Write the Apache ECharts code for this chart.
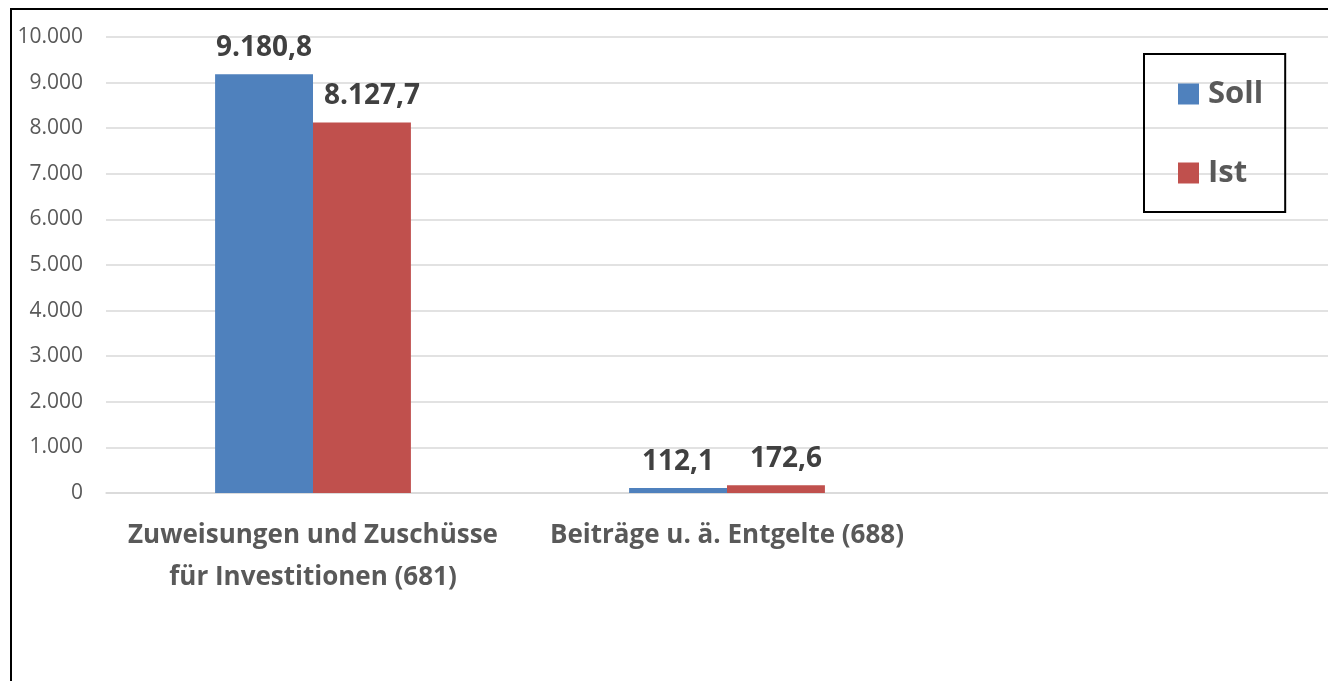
<!DOCTYPE html>
<html>
<head>
<meta charset="utf-8">
<script src="https://cdn.jsdelivr.net/npm/echarts@6/dist/echarts.min.js"></script>
<style>
  html, body { margin: 0; padding: 0; overflow: hidden; background: #fff; }
  #chart { width: 1360px; height: 681px; }
</style>
</head>
<body>
<div id="chart"></div>
<script>
// data
const categories = ['Zuweisungen und Zuschüsse\nfür Investitionen (681)', 'Beiträge u. ä. Entgelte (688)', ''];
const sollValues = [9180.8, 112.1, null];
const istValues = [8127.7, 172.6, null];
const seriesNames = ['Soll', 'Ist'];

// german number format
const fmtDe = (v, dec) => {
  const parts = Number(v).toFixed(dec).split('.');
  parts[0] = parts[0].replace(/\B(?=(\d{3})+(?!\d))/g, '.');
  return dec ? parts[0] + ',' + parts[1] : parts[0];
};

const chart = echarts.init(document.getElementById('chart'));
const font = '"Open Sans", "Noto Sans", sans-serif';

const barLabel = {
  show: true,
  position: 'top',
  distance: 12,
  fontFamily: font,
  fontWeight: 'bold',
  fontSize: 28,
  color: '#404040',
  formatter: p => fmtDe(p.value, 1)
};

chart.setOption({
  animation: false,
  textStyle: { fontFamily: font },
  graphic: [{
    type: 'rect',
    shape: { x: 11, y: 9, width: 1400, height: 720 },
    style: { fill: 'none', stroke: '#000', lineWidth: 2 },
    silent: true
  }],
  grid: { left: 106, top: 37, width: 1242, bottom: 681 - 493 },
  legend: {
    orient: 'vertical',
    left: 1144,
    top: 54,
    padding: [20, 22, 19, 34],
    itemGap: 39,
    itemWidth: 21,
    itemHeight: 21,
    borderColor: '#000',
    borderWidth: 2,
    icon: 'rect',
    textStyle: {
      fontSize: 31,
      lineHeight: 40,
      fontWeight: 'bold',
      color: '#595959',
      fontFamily: font,
      padding: [0, 0, 0, 4]
    },
    data: seriesNames
  },
  xAxis: {
    type: 'category',
    data: categories,
    axisLine: { show: true, lineStyle: { color: '#d9d9d9', width: 1.5 } },
    axisTick: { show: false },
    axisLabel: {
      interval: 0,
      margin: 22,
      fontSize: 26,
      fontWeight: 'bold',
      color: '#595959',
      lineHeight: 42,
      fontFamily: font
    }
  },
  yAxis: {
    type: 'value',
    min: 0,
    max: 10000,
    interval: 1000,
    axisLine: { show: false },
    axisTick: { show: false },
    splitLine: { lineStyle: { color: '#d9d9d9', width: 1.5 } },
    axisLabel: {
      margin: 23,
      fontSize: 21,
      color: '#595959',
      fontFamily: font,
      formatter: v => fmtDe(v, 0)
    }
  },
  series: [
    {
      name: seriesNames[0],
      type: 'bar',
      data: sollValues,
      barGap: '0%',
      barCategoryGap: '52.7%',
      itemStyle: { color: '#4F81BD' },
      label: barLabel
    },
    {
      name: seriesNames[1],
      type: 'bar',
      data: istValues,
      itemStyle: { color: '#C0504D' },
      label: Object.assign({}, barLabel, { offset: [10, 0] })
    }
  ]
});
</script>
</body>
</html>
